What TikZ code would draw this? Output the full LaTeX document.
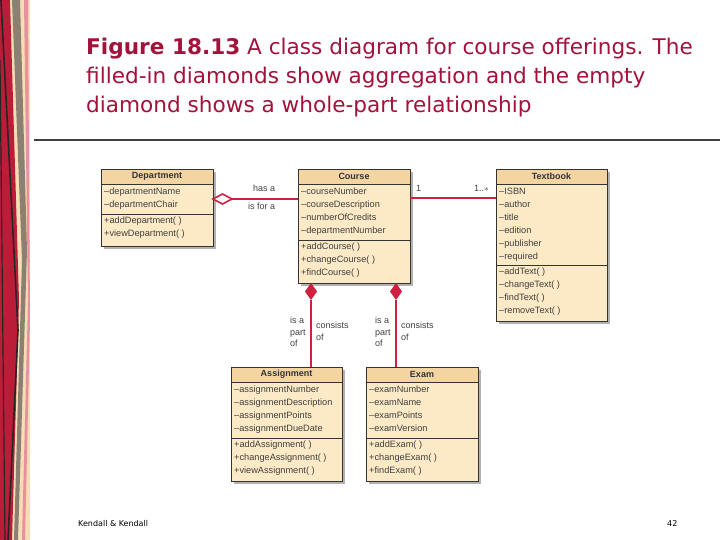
\documentclass[tikz,border=0pt]{standalone}
\usepackage{fontspec}
\setmainfont{DejaVu Sans}
\newfontfamily\uml{Liberation Sans}
\begin{document}
\begin{tikzpicture}[x=1pt,y=-1pt,
  hdr/.style={font=\uml\bfseries\fontsize{9}{9}\selectfont, text=black!80},
  itm/.style={font=\uml\fontsize{9.2}{13}\selectfont, text=black!75, anchor=north west, align=left, inner sep=0pt},
  lbl/.style={font=\uml\fontsize{9}{11.5}\selectfont, text=black!75, align=left, inner sep=0pt, anchor=north west},
  rel/.style={draw=relred, line width=1.8pt}]
\definecolor{relred}{HTML}{D0203F}
\definecolor{titlered}{HTML}{A3123A}
\definecolor{boxfill}{HTML}{FCE9C6}
\definecolor{hdrfill}{HTML}{F4D5A2}
\useasboundingbox (0,0) rectangle (720,540);
\fill[white] (0,0) rectangle (720,540);
% left decoration
\fill[hdrfill!80] (0,0) rectangle (30,540);
\fill[relred!90!black] (0,0) -- (10,0) -- (19,300) -- (12,540) -- (0,540) -- cycle;
\fill[gray!80!brown] (12,0) -- (20,0) -- (27,250) -- (18,540) -- (14,540) -- (22,260) -- cycle;
\fill[relred!50] (24,0) -- (28,0) -- (30,320) -- (25,540) -- (22,540)-- (28,300) -- cycle;
\draw[black!85,line width=1.6pt] (1,0) -- (18,330) -- (8,540);
\draw[black!85,line width=1.2pt] (0,60) -- (5,540);
% title
\node[anchor=north west, text=titlered, align=left, inner sep=0pt,
  font=\fontsize{21.6}{29}\selectfont] (title) at (86,38)
  {\textbf{Figure 18.13} A class diagram for course offerings. The\\
   filled-in diamonds show aggregation and the empty\\
   diamond shows a whole-part relationship};
\draw[black!75, line width=2.5pt] (34,140) -- (720,140);
% boxes
\newcommand\umlbox[9]{%
  \fill[black!30] (#2+3,#3+3) rectangle (#4+3,#7+3);
  \fill[boxfill] (#2,#3) rectangle (#4,#7);
  \fill[hdrfill] (#2,#3) rectangle (#4,#3+15);
  \draw[black!80, line width=0.8pt] (#2,#3) rectangle (#4,#7);
  \draw[black!80, line width=0.6pt] (#2,#3+15) -- (#4,#3+15);
  \draw[black!80, line width=0.6pt] (#2,#6) -- (#4,#6);
  \node[hdr] (#1) at ({(#2+#4)/2},#3+7.5) {#5};
  \node[itm] (#1a) at (#2+3,#3+19) {#8};
  \node[itm] (#1m) at (#2+3,#6+3) {#9};
  \coordinate (#1N) at ({(#2+#4)/2},#3);
}
\umlbox{dep}{101}{169}{213}{Department}{214}{246}
  {–departmentName\\–departmentChair}{+addDepartment( )\\+viewDepartment( )}
\umlbox{crs}{298}{169}{410}{Course}{240}{283}
  {–courseNumber\\–courseDescription\\–numberOfCredits\\–departmentNumber}
  {+addCourse( )\\+changeCourse( )\\+findCourse( )}
\umlbox{txt}{496}{169}{607}{Textbook}{265}{321}
  {–ISBN\\–author\\–title\\–edition\\–publisher\\–required}
  {–addText( )\\–changeText( )\\–findText( )\\–removeText( )}
\umlbox{asg}{231}{367}{342}{Assignment}{438}{481}
  {–assignmentNumber\\–assignmentDescription\\–assignmentPoints\\–assignmentDueDate}
  {+addAssignment( )\\+changeAssignment( )\\+viewAssignment( )}
\umlbox{exm}{366}{367}{478}{Exam}{438}{481}
  {–examNumber\\–examName\\–examPoints\\–examVersion}
  {+addExam( )\\+changeExam( )\\+findExam( )}
% relations
\coordinate (depR) at (213,199);
\coordinate (crsL) at (298,199);
\coordinate (crsR) at (410,198);
\coordinate (txtL) at (496,198);
\coordinate (c1) at (311,283); \coordinate (c2) at (396,283);
\coordinate (a1) at (311,367); \coordinate (e1) at (396,367);
\draw[rel] (232,199) -- (crsL);
\draw[draw=relred, fill=white, line width=1.6pt] (depR) -- (222.5,194) -- (232,199) -- (222.5,204) -- cycle;
\draw[rel] (crsR) -- (txtL);
\draw[rel] (311,300) -- (a1);
\draw[rel] (396,300) -- (e1);
\fill[relred] (c1) -- (317,291.5) -- (311,300) -- (305,291.5) -- cycle;
\fill[relred] (c2) -- (402,291.5) -- (396,300) -- (390,291.5) -- cycle;
\node[lbl] (l1) at (253,185) {has a};
\node[lbl] (l2) at (248,203) {is for a};
\node[lbl] (l3) at (416,185) {1};
\node[lbl] (l4) at (474,185) {1..$*$};
\node[lbl] (l5) at (290,317) {is a\\part\\of};
\node[lbl] (l6) at (316,322) {consists\\of};
\node[lbl] (l7) at (375,317) {is a\\part\\of};
\node[lbl] (l8) at (401,322) {consists\\of};
% footer
\node[anchor=west, font=\fontsize{8}{9}\selectfont, inner sep=0pt] (ft) at (78,524) {Kendall \& Kendall};
\node[anchor=west, font=\fontsize{8}{9}\selectfont, inner sep=0pt] (pg) at (667,524) {42};
\end{tikzpicture}
\end{document}
